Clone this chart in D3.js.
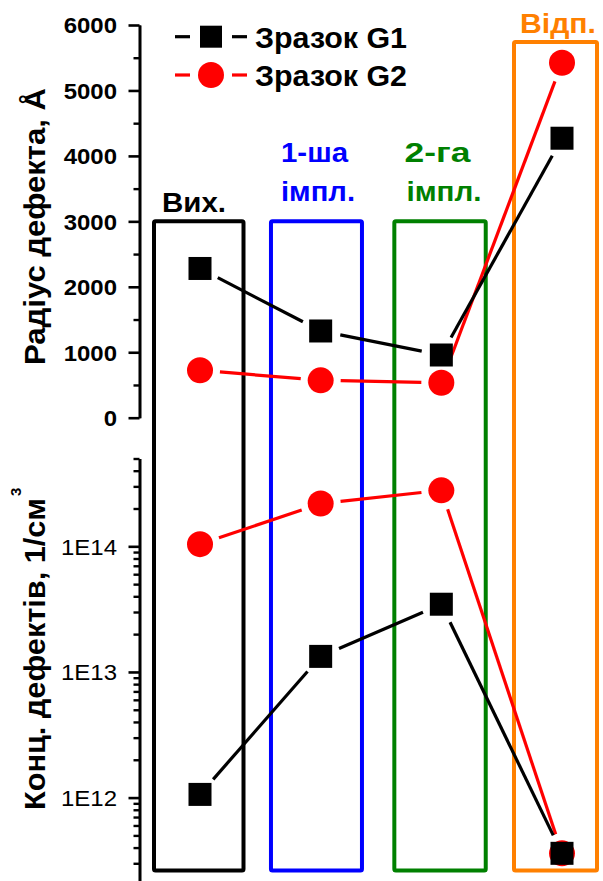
<!DOCTYPE html>
<html>
<head>
<meta charset="utf-8">
<script src="https://cdn.jsdelivr.net/npm/d3@7"></script>
<style>
  body { margin: 0; background: #fff; }
  svg text { font-family: "Liberation Sans", Arial, Helvetica, sans-serif; }
</style>
</head>
<body>
<svg id="chart" width="603" height="881"></svg>
<script>
// Processing stages (one framed column each)
const stageLabels = [["Вих."], ["1-ша", "імпл."], ["2-га", "імпл."], ["Відп."]];
const stageColors = ["#000000", "#0000ff", "#008000", "#ff8000"];

// Series
const seriesNames = ["Зразок G1", "Зразок G2"];
const seriesColors = ["#000000", "#ff0000"];

// Defect radius, Å
const radiusG1 = [2280, 1325, 958, 4270];
const radiusG2 = [724, 571, 535, 5424];

// Defect concentration, 1/cm^3
const concG1 = [1.06e12, 1.33e13, 3.46e13, 3.6e11];
const concG2 = [1.04e14, 2.19e14, 2.79e14, 3.6e11];

// Axis ticks
const radiusTicks = [0, 1000, 2000, 3000, 4000, 5000, 6000];
const radiusMinorTicks = [500, 1500, 2500, 3500, 4500, 5500];
const concTicks = [1e12, 1e13, 1e14];
const concTickLabels = ["1E12", "1E13", "1E14"];

const svg = d3.select("#chart");
const AXIS_X = 139.5;
const LABEL_STRETCH = 1.09;

const x = d3.scaleLinear().domain([0, 3]).range([200, 562]);
const yR = d3.scaleLinear().domain([0, 6000]).range([417.7, 25]);
const yC = d3.scaleLog().domain([2e11, 5e14]).range([885.4, 458.5]);

// ---- stage frames ----
const frames = [
  { left: -46, right: 43.5, top: yR(3000) },
  { left: -49.7, right: 41.3, top: yR(3000) },
  { left: -47, right: 44.4, top: yR(3000) },
  { left: -48, right: 35, top: 42 }
];
const frameBottom = 870.5;
svg.append("g").selectAll("rect").data(frames).join("rect")
  .attr("x", (d, i) => x(i) + d.left)
  .attr("y", d => d.top)
  .attr("width", d => d.right - d.left)
  .attr("height", d => frameBottom - d.top)
  .attr("rx", 1.5)
  .attr("fill", "none")
  .attr("stroke", (d, i) => stageColors[i])
  .attr("stroke-width", 4);

// stage captions
const captionPos = [
  [{ cx: 194, y: 212.3, w: 64 }],
  [{ cx: 314.5, y: 162.3, w: 67 }, { cx: 318, y: 201, w: 74 }],
  [{ cx: 437.5, y: 162.3, w: 66 }, { cx: 444, y: 201, w: 75 }],
  [{ cx: 558, y: 33.3, w: 76 }]
];
stageLabels.forEach((lines, i) => {
  lines.forEach((t, j) => {
    const p = captionPos[i][j];
    svg.append("text")
      .attr("x", p.cx).attr("y", p.y)
      .attr("text-anchor", "middle")
      .attr("font-size", 27).attr("font-weight", "bold")
      .attr("fill", stageColors[i])
      .attr("textLength", p.w).attr("lengthAdjust", "spacingAndGlyphs")
      .text(t);
  });
});

// ---- axes ----
function styleAxis(g, width) {
  g.select(".domain").attr("stroke", "#000").attr("stroke-width", 2.6);
  g.selectAll(".tick line").attr("stroke", "#000").attr("stroke-width", width);
}

const gR = svg.append("g").attr("transform", `translate(${AXIS_X},0)`);
gR.call(d3.axisLeft(yR).tickValues(radiusMinorTicks).tickSize(6).tickSizeOuter(0).tickFormat(""))
  .call(g => styleAxis(g, 2.4));
const gRMajor = svg.append("g").attr("transform", `translate(${AXIS_X},0)`);
gRMajor.call(d3.axisLeft(yR).tickValues(radiusTicks).tickSize(11).tickSizeOuter(0).tickFormat(d => d))
  .call(g => styleAxis(g, 2.6));
gRMajor.selectAll(".tick text")
  .attr("x", -22.5 / LABEL_STRETCH)
  .attr("dy", "0.36em")
  .attr("transform", `scale(${LABEL_STRETCH},1)`)
  .attr("font-size", 22).attr("font-weight", "bold").attr("fill", "#000")
  .attr("font-family", null);

const concMinor = [];
for (let e = 11; e <= 14; e++) {
  for (let k = 2; k <= 9; k++) {
    const v = k * Math.pow(10, e);
    if (v >= 2e11 && v <= 5e14) concMinor.push(v);
  }
}
const gC = svg.append("g").attr("transform", `translate(${AXIS_X},0)`);
gC.call(d3.axisLeft(yC).tickValues(concMinor).tickSize(6).tickSizeOuter(0).tickFormat(""))
  .call(g => styleAxis(g, 2.4));
const gCMajor = svg.append("g").attr("transform", `translate(${AXIS_X},0)`);
gCMajor.call(d3.axisLeft(yC).tickValues(concTicks).tickSize(11).tickSizeOuter(0)
    .tickFormat((d, i) => concTickLabels[i]))
  .call(g => styleAxis(g, 2.6));
gCMajor.selectAll(".tick text")
  .attr("x", -22.5 / LABEL_STRETCH)
  .attr("dy", "0.36em")
  .attr("transform", `scale(${LABEL_STRETCH},1)`)
  .attr("font-size", 22).attr("font-weight", "normal").attr("fill", "#000")
  .attr("font-family", null);

// ---- axis titles ----
svg.append("text")
  .attr("transform", "translate(45,365) rotate(-90)")
  .attr("font-size", 29).attr("font-weight", "bold")
  .attr("textLength", 277).attr("lengthAdjust", "spacingAndGlyphs")
  .text("Радіус дефекта, Å");
svg.append("text")
  .attr("transform", "translate(45,810) rotate(-90)")
  .attr("font-size", 29).attr("font-weight", "bold")
  .attr("textLength", 312).attr("lengthAdjust", "spacingAndGlyphs")
  .text("Конц. дефектів, 1/см");
svg.append("text")
  .attr("transform", "translate(21,496) rotate(-90)")
  .attr("font-size", 15).attr("font-weight", "bold")
  .text("3");

// ---- series ----
const GAP = 20;
function gappedSegments(pts) {
  const segs = [];
  for (let i = 0; i < pts.length - 1; i++) {
    const [x1, y1] = pts[i], [x2, y2] = pts[i + 1];
    const len = Math.hypot(x2 - x1, y2 - y1);
    const ux = (x2 - x1) / len, uy = (y2 - y1) / len;
    segs.push([x1 + ux * GAP, y1 + uy * GAP, x2 - ux * GAP, y2 - uy * GAP]);
  }
  return segs;
}

function drawSeries(values, yScale, color, marker) {
  const pts = values.map((v, i) => [x(i), yScale(v)]);
  const g = svg.append("g");
  g.selectAll("line").data(gappedSegments(pts)).join("line")
    .attr("x1", d => d[0]).attr("y1", d => d[1])
    .attr("x2", d => d[2]).attr("y2", d => d[3])
    .attr("stroke", color).attr("stroke-width", 3.2);
  if (marker === "circle") {
    g.selectAll("circle").data(pts).join("circle")
      .attr("cx", d => d[0]).attr("cy", d => d[1]).attr("r", 13)
      .attr("fill", color);
  } else {
    g.selectAll("rect").data(pts).join("rect")
      .attr("x", d => d[0] - 11.5).attr("y", d => d[1] - 11.5)
      .attr("width", 23).attr("height", 23)
      .attr("fill", color);
  }
}

drawSeries(radiusG2, yR, seriesColors[1], "circle");
drawSeries(concG2, yC, seriesColors[1], "circle");
drawSeries(radiusG1, yR, seriesColors[0], "square");
drawSeries(concG1, yC, seriesColors[0], "square");

// ---- legend ----
const legendRows = [36.7, 75];
seriesNames.forEach((name, i) => {
  const y = legendRows[i];
  const g = svg.append("g");
  g.append("line").attr("x1", 175).attr("x2", 190).attr("y1", y).attr("y2", y)
    .attr("stroke", seriesColors[i]).attr("stroke-width", 3.2);
  g.append("line").attr("x1", 232).attr("x2", 247).attr("y1", y).attr("y2", y)
    .attr("stroke", seriesColors[i]).attr("stroke-width", 3.2);
  if (i === 0) {
    g.append("rect").attr("x", 200).attr("y", y - 11).attr("width", 22).attr("height", 22)
      .attr("fill", seriesColors[i]);
  } else {
    g.append("circle").attr("cx", 211).attr("cy", y).attr("r", 13).attr("fill", seriesColors[i]);
  }
  g.append("text").attr("x", 255).attr("y", y + 11)
    .attr("font-size", 29).attr("font-weight", "bold")
    .attr("textLength", 152).attr("lengthAdjust", "spacingAndGlyphs")
    .text(name);
});
</script>
</body>
</html>
